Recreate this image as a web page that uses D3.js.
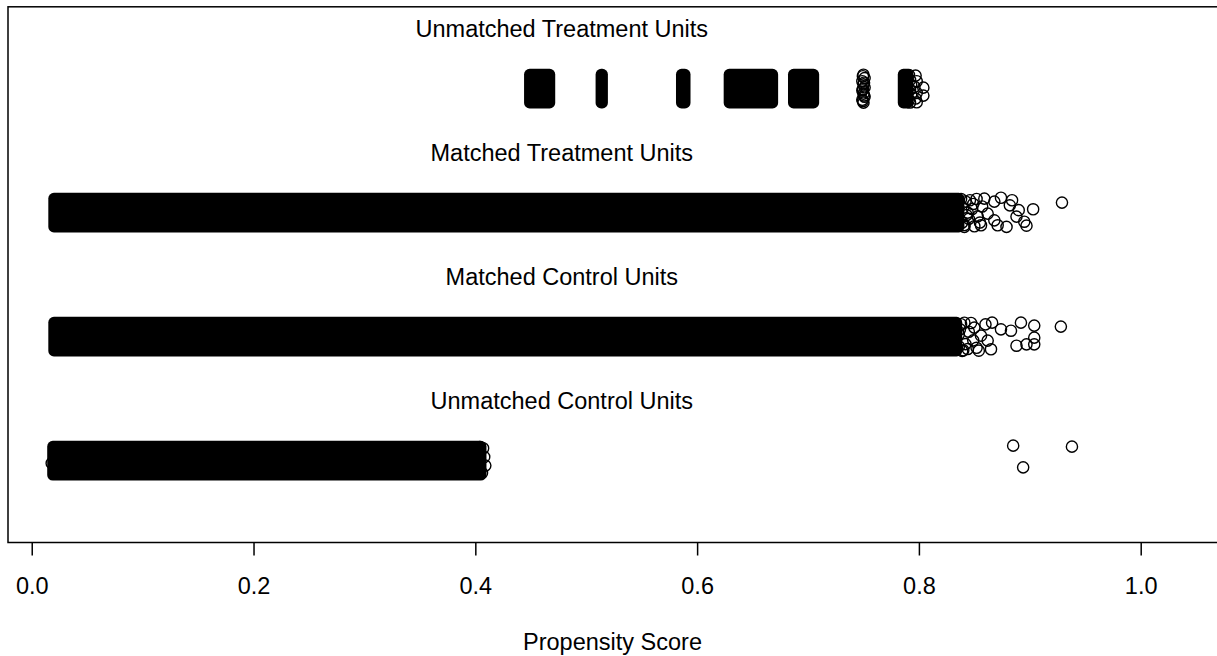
<!DOCTYPE html>
<html>
<head>
<meta charset="utf-8">
<script src="https://cdn.jsdelivr.net/npm/d3@7"></script>
<style>
body { margin: 0; background: #fff; }
text { font-family: "Liberation Sans", Arial, sans-serif; fill: #000; }
</style>
</head>
<body>
<script>

var w = 1217;
var h = 656;
var r = 5.6;         // point radius
var jitter = 0.115;  // vertical jitter half-width of each row

var groups = ["Unmatched Treatment Units", "Matched Treatment Units", "Matched Control Units", "Unmatched Control Units"];
var groupY = [3.5, 2.5, 1.5, 0.5];
var labelY = [4, 3, 2, 1];
var labelX = 0.478;
var xTicks = [0.0, 0.2, 0.4, 0.6, 0.8, 1.0];

// runs of score where the points overlap into solid black: [low, high]
var unmatchedTreatRuns = [[0.449, 0.467], [0.5135, 0.5145], [0.586, 0.589], [0.629, 0.668], [0.687, 0.705], [0.786, 0.790]];
var matchedTreatRuns = [[0.020, 0.836]];
var matchedControlRuns = [[0.020, 0.834]];
var unmatchedControlRuns = [[0.019, 0.405]];

// single visible points: [score, vertical jitter]
var unmatchedTreatPoints = [
    [0.750, 0.112], [0.751, 0.085], [0.749, 0.060], [0.750, 0.035], [0.751, 0.010],
    [0.749, -0.015], [0.750, -0.040], [0.751, -0.065], [0.749, -0.090], [0.750, -0.113],
    [0.7495, 0.100], [0.7505, 0.048], [0.7495, -0.005], [0.7505, -0.055], [0.7495, -0.100],
    [0.791, 0.110], [0.792, 0.070], [0.793, 0.030], [0.792, -0.010], [0.793, -0.050],
    [0.791, -0.090], [0.792, -0.112],
    [0.797, 0.105], [0.798, 0.060], [0.796, 0.015], [0.798, -0.035], [0.797, -0.080], [0.798, -0.110],
    [0.804, 0.008], [0.804, -0.056]
];
var matchedTreatPoints = [
    [0.838, 0.110], [0.839, -0.080], [0.840, 0.040], [0.841, -0.100], [0.842, 0.090],
    [0.843, -0.020], [0.845, -0.050], [0.848, 0.030], [0.850, -0.110], [0.852, 0.110],
    [0.846, 0.100], [0.853, -0.030], [0.841, -0.115], [0.844, 0.000], [0.857, 0.050],
    [0.849, 0.070], [0.855, -0.080],
    [0.874, 0.120], [0.884, 0.100], [0.890, 0.020], [0.903, 0.027], [0.895, -0.073],
    [0.897, -0.105], [0.888, -0.032], [0.882, 0.059], [0.868, 0.089], [0.856, -0.102],
    [0.871, -0.102], [0.879, -0.115], [0.868, -0.062], [0.859, 0.113], [0.862, -0.008],
    [0.929, 0.081]
];
var matchedControlPoints = [
    [0.836, -0.080], [0.837, 0.060], [0.839, -0.115], [0.841, 0.112],
    [0.838, 0.100], [0.842, -0.060], [0.845, 0.040], [0.840, -0.110], [0.847, 0.110],
    [0.852, -0.090], [0.836, 0.020], [0.844, -0.100], [0.849, -0.030],
    [0.860, 0.099], [0.866, 0.113], [0.874, 0.059], [0.883, 0.048], [0.892, 0.113],
    [0.904, 0.089], [0.904, -0.008], [0.904, -0.062], [0.897, -0.062], [0.888, -0.073],
    [0.862, -0.032], [0.865, -0.102], [0.854, -0.113], [0.856, 0.008], [0.850, 0.073],
    [0.928, 0.081]
];
var unmatchedControlPoints = [
    [0.407, 0.100], [0.408, 0.030], [0.409, -0.040], [0.406, -0.100], [0.404, 0.110],
    [0.018, -0.020],
    [0.885, 0.121], [0.938, 0.113], [0.894, -0.054]
];

var runs = [unmatchedTreatRuns, matchedTreatRuns, matchedControlRuns, unmatchedControlRuns];
var points = [unmatchedTreatPoints, matchedTreatPoints, matchedControlPoints, unmatchedControlPoints];

var svg = d3.select("body")
    .append("svg")
    .attr("width", w)
    .attr("height", h);

var xScale = d3.scaleLinear()
    .domain([-0.0214, 1.0688])
    .range([8, 1217]);

var yScale = d3.scaleLinear()
    .domain([-0.16, 4.16])
    .range([542.5, 6.8]);

// plot box (right side runs off the picture)
svg.append("rect")
    .attr("x", xScale.range()[0])
    .attr("y", yScale.range()[1])
    .attr("width", xScale.range()[1] - xScale.range()[0] + 2)
    .attr("height", yScale.range()[0] - yScale.range()[1])
    .attr("fill", "none")
    .attr("stroke", "#000")
    .attr("stroke-width", 1.5);

// group labels
svg.selectAll("text.group")
    .data(groups)
    .enter()
    .append("text")
    .attr("class", "group")
    .attr("x", xScale(labelX))
    .attr("y", function (d, i) { return yScale(labelY[i]); })
    .attr("dy", "0.43em")
    .attr("text-anchor", "middle")
    .attr("font-size", 23.5)
    .text(function (d) { return d; });

// solid runs, then the single points
groups.forEach(function (g, i) {
    svg.append("g")
        .selectAll("rect")
        .data(runs[i])
        .enter()
        .append("rect")
        .attr("x", function (d) { return xScale(d[0]) - r; })
        .attr("y", yScale(groupY[i] + jitter) - r)
        .attr("width", function (d) { return xScale(d[1]) - xScale(d[0]) + 2 * r; })
        .attr("height", yScale(groupY[i] - jitter) - yScale(groupY[i] + jitter) + 2 * r)
        .attr("rx", r)
        .attr("fill", "#000");

    svg.append("g")
        .selectAll("circle")
        .data(points[i])
        .enter()
        .append("circle")
        .attr("cx", function (d) { return xScale(d[0]); })
        .attr("cy", function (d) { return yScale(groupY[i] + d[1]); })
        .attr("r", r)
        .attr("fill", "none")
        .attr("stroke", "#000")
        .attr("stroke-width", 1.4);
});

// x axis
var xAxis = d3.axisBottom(xScale)
    .tickValues(xTicks)
    .tickSize(13)
    .tickPadding(22)
    .tickFormat(d3.format(".1f"));

var ax = svg.append("g")
    .attr("transform", "translate(0," + yScale.range()[0] + ")")
    .call(xAxis);
ax.select(".domain").remove();
ax.selectAll("line").attr("stroke", "#000").attr("stroke-width", 1.5);
ax.selectAll("text")
    .attr("font-size", 23.5)
    .attr("font-family", "'Liberation Sans', Arial, sans-serif")
    .attr("fill", "#000");

svg.append("text")
    .attr("x", (xScale.range()[0] + xScale.range()[1]) / 2)
    .attr("y", 650)
    .attr("text-anchor", "middle")
    .attr("font-size", 23.5)
    .text("Propensity Score");

</script>
</body>
</html>
